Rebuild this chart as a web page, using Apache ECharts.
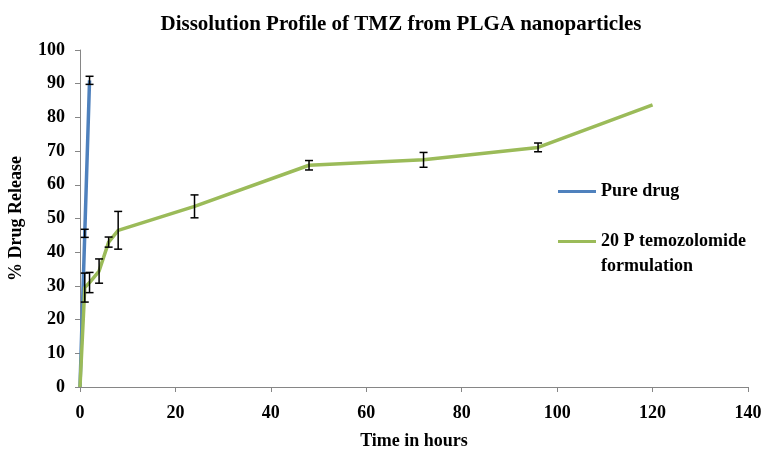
<!DOCTYPE html>
<html>
<head>
<meta charset="utf-8">
<script src="https://cdn.jsdelivr.net/npm/echarts@6/dist/echarts.min.js"></script>
<style>
  html, body { margin: 0; padding: 0; background: #fff; }
  #chart { width: 769px; height: 450px; }
</style>
</head>
<body>
<div id="chart"></div>
<script>
// values
const pureHours = [0, 1, 2];
const pureDrug = [0, 45.6, 91];
const pureErr = [0, 1.2, 1.2];

const fHours = [0, 1, 2, 4, 6, 8, 24, 48, 72, 96, 120];
const formulation = [0, 29.5, 31, 34.4, 43, 46.5, 53.6, 65.8, 67.4, 71.1, 83.7];
const formulationErr = [0, 4.3, 3, 3.6, 1.5, 5.6, 3.4, 1.4, 2.2, 1.3, 0];

const font = "'Liberation Serif', 'Times New Roman', serif";
const pureName = 'Pure drug';
const fName = '20 P temozolomide formulation';

function pairs(xs, ys) { return xs.map((x, i) => [x, ys[i]]) }
function triples(xs, ys, es) { return xs.map((x, i) => [x, ys[i], es[i]]) }

// whisker with caps
function errorBar(params, api) {
    const x = api.value(0), y = api.value(1), e = api.value(2)
    if (!e) return
    const top = api.coord([x, y + e])
    const bot = api.coord([x, y - e])
    const w = 4
    const st = { stroke: '#000', lineWidth: 1.5 }
    return {
        type: 'group',
        children: [
            { type: 'line', shape: { x1: top[0], y1: top[1], x2: bot[0], y2: bot[1] }, style: st },
            { type: 'line', shape: { x1: top[0] - w, y1: top[1], x2: top[0] + w, y2: top[1] }, style: st },
            { type: 'line', shape: { x1: bot[0] - w, y1: bot[1], x2: bot[0] + w, y2: bot[1] }, style: st }
        ]
    }
}

let chart = echarts.init(document.getElementById('chart'))
chart.setOption({
    animation: false,
    textStyle: { fontFamily: font },
    title: {
        text: 'Dissolution Profile of TMZ from PLGA nanoparticles',
        left: 396,
        textAlign: 'center',
        top: 9,
        textStyle: { fontFamily: font, fontSize: 21, fontWeight: 'bold', color: '#000' }
    },
    grid: { left: 80, right: 21, top: 50, bottom: 63, outerBoundsMode: 'none' },
    legend: {
        orient: 'vertical',
        left: 553,
        top: 174,
        itemGap: 0,
        itemWidth: 38,
        itemHeight: 14,
        icon: 'path://M0,6 L38,6 L38,9 L0,9 Z',
        textStyle: {
            fontFamily: font, fontSize: 18, fontWeight: 'bold', color: '#000', lineHeight: 25,
            rich: { t: { fontFamily: font, fontSize: 18, fontWeight: 'bold', color: '#000', lineHeight: 25 } }
        },
        // blank first line keeps the icon level with "20 P temozolomide"
        formatter: name => name === fName ? '{t| }\n{t|20 P temozolomide}\n{t|formulation}' : name,
        data: [pureName, fName]
    },
    xAxis: {
        type: 'value',
        min: 0, max: 140, interval: 20,
        name: 'Time in hours',
        nameLocation: 'middle',
        nameGap: 45,
        nameTextStyle: { fontFamily: font, fontSize: 18, fontWeight: 'bold', color: '#000' },
        axisLine: { lineStyle: { color: '#868686' } },
        axisTick: { show: true, length: 5, lineStyle: { color: '#868686' } },
        axisLabel: { fontFamily: font, fontSize: 18, fontWeight: 'bold', color: '#000', margin: 17 },
        splitLine: { show: false }
    },
    yAxis: {
        type: 'value',
        min: 0, max: 100, interval: 10,
        name: '% Drug Release',
        nameLocation: 'middle',
        nameGap: 55,
        nameTextStyle: { fontFamily: font, fontSize: 18, fontWeight: 'bold', color: '#000' },
        axisLine: { show: true, lineStyle: { color: '#868686' } },
        axisTick: { show: true, length: 5, lineStyle: { color: '#868686' } },
        axisLabel: { fontFamily: font, fontSize: 18, fontWeight: 'bold', color: '#000', margin: 15 },
        splitLine: { show: false }
    },
    series: [
        {
            name: pureName,
            type: 'line',
            data: pairs(pureHours, pureDrug),
            showSymbol: false,
            lineStyle: { color: '#4f81bd', width: 3.5 },
            itemStyle: { color: '#4f81bd' },
            z: 2
        },
        {
            name: fName,
            type: 'line',
            data: pairs(fHours, formulation),
            showSymbol: false,
            lineStyle: { color: '#9bbb59', width: 3.5 },
            itemStyle: { color: '#9bbb59' },
            z: 3
        },
        {
            type: 'custom',
            renderItem: errorBar,
            data: triples(pureHours, pureDrug, pureErr),
            z: 5
        },
        {
            type: 'custom',
            renderItem: errorBar,
            data: triples(fHours, formulation, formulationErr),
            z: 5
        }
    ]
})
</script>
</body>
</html>
